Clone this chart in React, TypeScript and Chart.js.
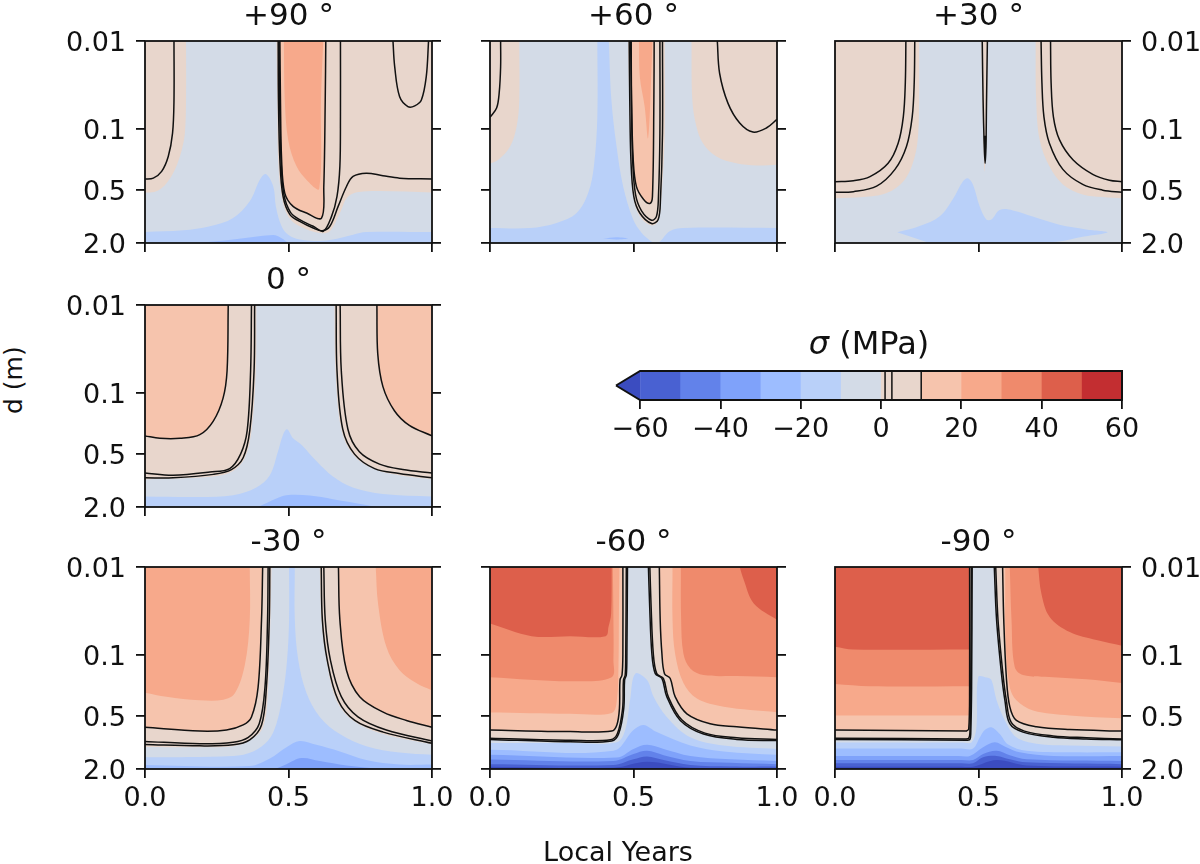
import React, { useEffect, useRef } from 'react';
import { Chart, registerables } from 'chart.js';

Chart.register(...registerables);

type Pt = [number, number];

// colour of each filled level, named by the lower edge of the band (MPa)
const bandColors: Record<number, string> = {
  [-70]: '#3b4cc0', [-60]: '#4961d2', [-50]: '#6282ea', [-40]: '#7fa2fa', [-30]: '#9dbdff', [-20]: '#b9d0f9',
  [-10]: '#d3dbe7', 0: '#e8d6cc', 10: '#f6c4ad', 20: '#f7a98b', 30: '#ef8a6c', 40: '#dd5f4b', 50: '#c32e31',
};

const plotBox: Pt[] = [[0, 0.01], [1, 0.01], [1, 2], [0, 2]];

const yTickValues = [0.01, 0.1, 0.5, 2];
const yTickLabels = ['0.01', '0.1', '0.5', '2.0'];
const xTickValues = [0, 0.5, 1];
const xTickLabels = ['0.0', '0.5', '1.0'];
const barEdges = [-60, -50, -40, -30, -20, -10, 0, 10, 20, 30, 40, 50];
const barTickValues = [-60, -40, -20, 0, 20, 40, 60];
const barTickLabels = ['\u221260', '\u221240', '\u221220', '0', '20', '40', '60'];
const barLines = [1, 2.7, 10];

// +90
const e90Ten: Pt[] = [[0.47, 0.01], [0.472, 0.047], [0.476, 0.226], [0.487, 0.54], [0.516, 0.766], [0.563, 0.912], [0.615, 1.04], [0.623, 0.454], [0.628, 0.047], [0.63, 0.01]];
const fills90: [number, Pt[]][] = [
  [-20, [[0, 1.5], [0.133, 1.435], [0.226, 1.29], [0.307, 1.04], [0.365, 0.671], [0.4, 0.381], [0.421, 0.328], [0.447, 0.454], [0.456, 0.766], [0.476, 1.29], [0.499, 1.61], [0.539, 1.83], [0.609, 1.9], [0.655, 1.83], [0.725, 1.61], [0.771, 1.5], [1, 1.5], [1, 2], [0, 2]]],
  [-30, [[0.19, 2], [0.307, 1.83], [0.446, 1.62], [0.476, 1.76], [0.499, 2]]],
  [0, [[0, 0.01], [0.143, 0.01], [0.143, 0.047], [0.139, 0.112], [0.128, 0.174], [0.104, 0.293], [0.075, 0.416], [0.046, 0.503], [0.017, 0.531], [0, 0.531]]],
  [0, [[0.458, 0.01], [0.461, 0.047], [0.464, 0.226], [0.476, 0.589], [0.499, 0.995], [0.539, 1.29], [0.609, 1.54], [0.644, 1.47], [0.679, 0.912], [0.708, 0.589], [0.76, 0.517], [1, 0.531], [1, 0.01]]],
  [10, e90Ten],
  [20, [[0.484, 0.01], [0.487, 0.047], [0.499, 0.134], [0.528, 0.268], [0.568, 0.398], [0.607, 0.482], [0.613, 0.047], [0.621, 0.01]]],
];
const lines90: Pt[][] = [
  e90Ten,
  [[0.101, 0.01], [0.101, 0.047], [0.096, 0.112], [0.081, 0.207], [0.058, 0.306], [0.029, 0.365], [0, 0.374]],
  [[0.464, 0.01], [0.465, 0.047], [0.47, 0.226], [0.481, 0.589], [0.505, 0.952], [0.539, 1.135], [0.586, 1.35], [0.618, 1.45], [0.644, 1.29], [0.673, 0.766], [0.702, 0.454], [0.725, 0.349], [0.771, 0.32], [0.829, 0.343], [0.887, 0.365], [1, 0.374]],
  [[0.467, 0.01], [0.469, 0.047], [0.474, 0.226], [0.484, 0.564], [0.507, 0.896], [0.539, 1.086], [0.586, 1.29], [0.621, 1.47], [0.65, 0.995], [0.669, 0.589], [0.679, 0.268], [0.681, 0.073], [0.681, 0.01]],
  [[0.864, 0.01], [0.87, 0.0196], [0.887, 0.043], [0.916, 0.0558], [0.94, 0.0548], [0.963, 0.047], [0.98, 0.0255], [0.988, 0.01]],
];

// +60
const e60Ten: Pt[] = [[0.49, 0.01], [0.493, 0.047], [0.499, 0.225], [0.51, 0.453], [0.534, 0.63], [0.557, 0.71], [0.566, 0.589], [0.571, 0.047], [0.572, 0.01]];
const fills60: [number, Pt[]][] = [
  [-20, [[0.374, 0.01], [0.374, 0.0725], [0.362, 0.268], [0.342, 0.54], [0.302, 0.91], [0.232, 1.18], [0.139, 1.35], [0, 1.35], [0, 2], [1, 2], [1, 1.35], [0.673, 1.35], [0.626, 1.47], [0.592, 1.92], [0.574, 2], [0.557, 1.87], [0.528, 1.53], [0.499, 1.08], [0.464, 0.453], [0.441, 0.159], [0.423, 0.047], [0.414, 0.01]]],
  [-30, [[0.394, 1.78], [0.441, 1.72], [0.481, 1.78], [0.441, 1.83]]],
  [0, [[0, 0.01], [0.102, 0.01], [0.102, 0.047], [0.093, 0.0935], [0.07, 0.159], [0.029, 0.225], [0, 0.25]]],
  [0, [[0.702, 0.01], [0.705, 0.047], [0.719, 0.0935], [0.742, 0.146], [0.789, 0.207], [0.858, 0.247], [0.928, 0.262], [1, 0.257], [1, 0.01]]],
  [0, [[0.481, 0.01], [0.485, 0.047], [0.49, 0.225], [0.499, 0.589], [0.522, 0.995], [0.563, 1.26], [0.586, 1.13], [0.597, 0.63], [0.609, 0.112], [0.609, 0.01]]],
  [10, e60Ten],
  [20, [[0.519, 0.01], [0.522, 0.0255], [0.539, 0.056], [0.551, 0.127], [0.563, 0.0196], [0.566, 0.01]]],
];
const lines60: Pt[][] = [
  e60Ten,
  [[0.037, 0.01], [0.037, 0.0196], [0.032, 0.039], [0.023, 0.058], [0, 0.074]],
  [[0.792, 0.01], [0.8, 0.0233], [0.829, 0.051], [0.87, 0.086], [0.916, 0.109], [0.963, 0.098], [1, 0.078]],
  [[0.485, 0.01], [0.487, 0.047], [0.491, 0.225], [0.501, 0.589], [0.522, 0.91], [0.563, 1.2], [0.586, 1.08], [0.594, 0.63], [0.601, 0.112], [0.601, 0.01]],
  [[0.492, 0.01], [0.493, 0.047], [0.497, 0.225], [0.507, 0.56], [0.528, 0.86], [0.563, 1.1], [0.58, 0.995], [0.587, 0.589], [0.592, 0.112], [0.592, 0.01]],
];

// +30
const e30LeftA: Pt[] = [[0.247, 0.01], [0.245, 0.03], [0.238, 0.073], [0.22, 0.146], [0.185, 0.247], [0.122, 0.35], [0.064, 0.39], [0, 0.4]];
const e30LeftB: Pt[] = [[0.278, 0.01], [0.276, 0.03], [0.269, 0.073], [0.249, 0.159], [0.209, 0.29], [0.145, 0.45], [0.064, 0.52], [0, 0.53]];
const e30RightA: Pt[] = [[0.718, 0.01], [0.721, 0.03], [0.728, 0.073], [0.747, 0.146], [0.794, 0.29], [0.863, 0.43], [0.933, 0.5], [1, 0.53]];
const e30RightB: Pt[] = [[0.751, 0.01], [0.753, 0.03], [0.761, 0.073], [0.782, 0.133], [0.829, 0.225], [0.898, 0.33], [0.956, 0.385], [1, 0.4]];
const fills30: [number, Pt[]][] = [
  [-20, [[0.217, 1.51], [0.295, 1.28], [0.365, 0.99], [0.411, 0.63], [0.446, 0.397], [0.463, 0.366], [0.481, 0.433], [0.504, 0.765], [0.527, 1.08], [0.545, 1.08], [0.574, 0.84], [0.62, 0.85], [0.689, 1.0], [0.782, 1.24], [0.875, 1.4], [0.95, 1.51], [0.863, 1.7], [0.759, 1.95], [0.319, 1.95]]],
  [0, [[0, 0.01], [0.293, 0.01], [0.293, 0.047], [0.29, 0.112], [0.278, 0.207], [0.243, 0.38], [0.18, 0.54], [0.098, 0.6], [0, 0.62]]],
  [0, [[0.699, 0.01], [0.701, 0.047], [0.713, 0.133], [0.747, 0.268], [0.794, 0.43], [0.863, 0.56], [0.933, 0.6], [1, 0.62], [1, 0.01]]],
  [0, [[0.51, 0.01], [0.513, 0.047], [0.518, 0.174], [0.521, 0.306], [0.526, 0.174], [0.531, 0.047], [0.533, 0.01]]],
];
const lines30: Pt[][] = [
  e30LeftA, e30LeftB, e30RightA, e30RightB,
  [[0.513, 0.01], [0.516, 0.047], [0.52, 0.159], [0.523, 0.247], [0.526, 0.159], [0.528, 0.047], [0.531, 0.01]],
  [[0.521, 0.12], [0.523, 0.2], [0.525, 0.12]],
];

// 0
const e0TenLeft: Pt[] = [[0.29, 0.01], [0.286, 0.056], [0.272, 0.115], [0.238, 0.21], [0.191, 0.3], [0.122, 0.33], [0.052, 0.33], [0, 0.31]];
const e0TenRight: Pt[] = [[0.808, 0.01], [0.811, 0.036], [0.829, 0.085], [0.869, 0.16], [0.921, 0.235], [1, 0.31]];
const fills0: [number, Pt[]][] = [
  [-20, [[0, 1.52], [0.191, 1.54], [0.307, 1.47], [0.388, 1.2], [0.435, 0.87], [0.463, 0.47], [0.481, 0.3], [0.495, 0.26], [0.516, 0.33], [0.545, 0.39], [0.597, 0.6], [0.655, 0.9], [0.724, 1.2], [0.829, 1.42], [1, 1.52], [1, 2], [0, 2]]],
  [-30, [[0.394, 2], [0.458, 1.6], [0.492, 1.47], [0.574, 1.48], [0.655, 1.63], [0.77, 1.9], [0.805, 2]]],
  [0, [[0, 0.01], [0.388, 0.01], [0.386, 0.056], [0.371, 0.27], [0.348, 0.55], [0.307, 0.78], [0.238, 0.9], [0, 0.97]]],
  [0, [[0.66, 0.01], [0.664, 0.056], [0.684, 0.26], [0.724, 0.5], [0.794, 0.73], [0.886, 0.87], [1, 0.96], [1, 0.01]]],
  [10, [[0, 0.01], ...e0TenLeft]],
  [10, [...e0TenRight, [1, 0.01]]],
];
const lines0: Pt[][] = [
  e0TenLeft, e0TenRight,
  [[0.382, 0.01], [0.38, 0.056], [0.365, 0.27], [0.342, 0.55], [0.301, 0.75], [0.238, 0.85], [0.098, 0.93], [0, 0.93]],
  [[0.371, 0.01], [0.368, 0.056], [0.356, 0.27], [0.333, 0.5], [0.295, 0.73], [0.226, 0.8], [0.098, 0.87], [0, 0.82]],
  [[0.666, 0.01], [0.669, 0.056], [0.689, 0.26], [0.73, 0.5], [0.8, 0.73], [0.886, 0.83], [1, 0.93]],
  [[0.68, 0.01], [0.684, 0.056], [0.707, 0.26], [0.747, 0.47], [0.817, 0.65], [0.898, 0.75], [1, 0.82]],
];

// -30
const eM30TenLeft: Pt[] = [[0.41, 0.01], [0.406, 0.04], [0.394, 0.235], [0.371, 0.51], [0.342, 0.63], [0.284, 0.72], [0.191, 0.74], [0, 0.67]];
const eM30TenRight: Pt[] = [[0.674, 0.01], [0.679, 0.04], [0.702, 0.15], [0.748, 0.3], [0.83, 0.45], [0.911, 0.56], [1, 0.67]];
const fillsM30: [number, Pt[]][] = [
  [-20, [[0.502, 0.01], [0.502, 0.04], [0.495, 0.115], [0.481, 0.275], [0.458, 0.61], [0.429, 0.95], [0.377, 1.26], [0.307, 1.42], [0, 1.47], [0, 2], [1, 2], [1, 1.38], [0.887, 1.3], [0.771, 1.1], [0.679, 0.8], [0.609, 0.51], [0.563, 0.275], [0.534, 0.115], [0.522, 0.04], [0.522, 0.01]]],
  [-30, [[0, 1.8], [0.365, 1.85], [0.435, 1.52], [0.493, 1.13], [0.539, 0.96], [0.597, 1.06], [0.679, 1.26], [0.771, 1.58], [0.887, 1.78], [1, 1.78], [1, 2], [0, 2]]],
  [-40, [[0.452, 2], [0.493, 1.76], [0.545, 1.5], [0.609, 1.62], [0.702, 1.82], [0.83, 2]]],
  [0, [[0, 0.01], [0.441, 0.01], [0.437, 0.04], [0.429, 0.235], [0.412, 0.66], [0.365, 0.95], [0.307, 1.1], [0.191, 1.13], [0, 1.12]]],
  [0, [[0.609, 0.01], [0.615, 0.04], [0.632, 0.115], [0.667, 0.33], [0.725, 0.56], [0.83, 0.8], [1, 1.05], [1, 0.01]]],
  [10, [[0, 0.01], ...eM30TenLeft]],
  [10, [...eM30TenRight, [1, 0.01]]],
  [20, [[0, 0.01], [0.365, 0.01], [0.365, 0.04], [0.348, 0.13], [0.313, 0.275], [0.273, 0.325], [0.191, 0.33], [0.075, 0.3], [0, 0.27]]],
  [20, [[0.804, 0.01], [0.812, 0.026], [0.841, 0.081], [0.887, 0.15], [0.945, 0.21], [1, 0.255], [1, 0.01]]],
];
const linesM30: Pt[][] = [
  eM30TenLeft, eM30TenRight,
  [[0.435, 0.01], [0.433, 0.04], [0.423, 0.235], [0.406, 0.63], [0.365, 0.93], [0.307, 1.06], [0.191, 1.09], [0, 1.05]],
  [[0.429, 0.01], [0.427, 0.04], [0.418, 0.235], [0.398, 0.61], [0.36, 0.87], [0.307, 0.99], [0.191, 1.03], [0, 0.97]],
  [[0.614, 0.01], [0.618, 0.04], [0.635, 0.115], [0.673, 0.33], [0.731, 0.56], [0.83, 0.76], [1, 1.02]],
  [[0.623, 0.01], [0.628, 0.04], [0.646, 0.115], [0.684, 0.3], [0.742, 0.51], [0.841, 0.72], [1, 0.96]],
];

// -60
const eM60ZeroLeft: Pt[] = [[0.479, 0.01], [0.477, 0.097], [0.475, 0.17], [0.469, 0.194], [0.466, 0.41], [0.448, 0.8], [0.424, 0.96], [0.279, 0.98], [0, 0.92]];
const eM60ZeroRight: Pt[] = [[0.552, 0.01], [0.556, 0.026], [0.564, 0.097], [0.576, 0.164], [0.599, 0.186], [0.616, 0.3], [0.663, 0.56], [0.744, 0.8], [0.86, 0.92], [1, 0.95]];
const eM60TenLeft: Pt[] = [[0.463, 0.01], [0.463, 0.097], [0.46, 0.17], [0.453, 0.194], [0.451, 0.41], [0.442, 0.63], [0.424, 0.74], [0.279, 0.75], [0, 0.72]];
const eM60TenRight: Pt[] = [[0.59, 0.01], [0.593, 0.04], [0.599, 0.097], [0.608, 0.164], [0.628, 0.186], [0.645, 0.3], [0.686, 0.47], [0.767, 0.61], [0.86, 0.66], [1, 0.72]];
const fillsM60: [number, Pt[]][] = [
  [-20, [[0, 1.01], [0.279, 1.01], [0.442, 0.99], [0.471, 0.72], [0.488, 0.33], [0.506, 0.164], [0.547, 0.194], [0.57, 0.3], [0.616, 0.51], [0.698, 0.87], [0.814, 1.08], [1, 1.18], [1, 2], [0, 2]]],
  [-30, [[0, 1.21], [0.43, 1.24], [0.5, 0.72], [0.535, 0.63], [0.581, 0.76], [0.698, 1.08], [0.814, 1.26], [1, 1.38], [1, 2], [0, 2]]],
  [-40, [[0, 1.38], [0.442, 1.48], [0.5, 1.18], [0.547, 1.06], [0.605, 1.18], [0.698, 1.42], [0.837, 1.55], [1, 1.62], [1, 2], [0, 2]]],
  [-50, [[0, 1.56], [0.43, 1.62], [0.5, 1.35], [0.547, 1.24], [0.605, 1.39], [0.698, 1.62], [0.837, 1.7], [1, 1.76], [1, 2], [0, 2]]],
  [-60, [[0, 1.76], [0.43, 1.8], [0.5, 1.55], [0.547, 1.44], [0.605, 1.58], [0.698, 1.8], [0.837, 1.87], [1, 1.88], [1, 2], [0, 2]]],
  [-70, [[0, 1.88], [0.43, 1.93], [0.547, 1.65], [0.698, 1.93], [1, 1.96], [1, 2], [0, 2]]],
  [0, [[0, 0.01], ...eM60ZeroLeft]],
  [0, [...eM60ZeroRight, [1, 0.01]]],
  [10, [[0, 0.01], ...eM60TenLeft]],
  [10, [...eM60TenRight, [1, 0.01]]],
  [20, [[0, 0.01], [0.451, 0.01], [0.449, 0.04], [0.448, 0.115], [0.442, 0.33], [0.424, 0.46], [0.279, 0.47], [0, 0.455]]],
  [20, [[0.636, 0.01], [0.636, 0.04], [0.645, 0.097], [0.674, 0.21], [0.721, 0.315], [0.814, 0.39], [1, 0.45], [1, 0.01]]],
  [30, [[0, 0.01], [0.428, 0.01], [0.43, 0.04], [0.43, 0.115], [0.424, 0.18], [0.279, 0.2], [0, 0.18]]],
  [30, [[0.665, 0.01], [0.666, 0.04], [0.674, 0.097], [0.698, 0.143], [0.744, 0.17], [0.86, 0.175], [1, 0.18], [1, 0.01]]],
  [40, [[0, 0.01], [0.424, 0.01], [0.422, 0.034], [0.413, 0.048], [0.403, 0.0613], [0.279, 0.0613], [0.145, 0.0613], [0, 0.044]]],
  [40, [[0.87, 0.01], [0.884, 0.014], [0.919, 0.026], [1, 0.04], [1, 0.01]]],
];
const linesM60: Pt[][] = [
  eM60ZeroLeft, eM60ZeroRight, eM60TenLeft, eM60TenRight,
  [[0.475, 0.01], [0.473, 0.097], [0.471, 0.17], [0.465, 0.194], [0.462, 0.41], [0.444, 0.79], [0.42, 0.93], [0.279, 0.94], [0, 0.89]],
  [[0.557, 0.01], [0.561, 0.026], [0.569, 0.097], [0.581, 0.164], [0.604, 0.186], [0.621, 0.3], [0.668, 0.55], [0.749, 0.78], [0.86, 0.88], [1, 0.92]],
];

// -90; the square corners next to the cold strip are listed twice so the spline does not round them
const eM90ZeroLeft: Pt[] = [[0.478, 0.01], [0.476, 0.235], [0.473, 0.8], [0.47, 0.92], [0.462, 0.94], [0.462, 0.94], [0, 0.92]];
const eM90ZeroRight: Pt[] = [[0.555, 0.01], [0.563, 0.04], [0.58, 0.164], [0.592, 0.33], [0.609, 0.61], [0.655, 0.76], [0.76, 0.87], [0.876, 0.91], [1, 0.93]];
const eM90TenLeft: Pt[] = [[0.469, 0.01], [0.469, 0.235], [0.466, 0.7], [0.458, 0.74], [0.458, 0.74], [0, 0.72]];
const eM90TenRight: Pt[] = [[0.584, 0.01], [0.588, 0.04], [0.597, 0.18], [0.609, 0.39], [0.632, 0.56], [0.702, 0.66], [0.818, 0.71], [1, 0.74]];
const fillsM90: [number, Pt[]][] = [
  [-20, [[0, 1.0], [0.44, 1.0], [0.476, 0.99], [0.493, 0.66], [0.499, 0.18], [0.528, 0.182], [0.545, 0.194], [0.563, 0.33], [0.592, 0.56], [0.632, 0.87], [0.702, 1.03], [0.818, 1.08], [1, 1.11], [1, 2], [0, 2]]],
  [-30, [[0, 1.17], [0.44, 1.17], [0.481, 1.17], [0.505, 0.87], [0.522, 0.72], [0.545, 0.67], [0.574, 0.8], [0.603, 1.05], [0.667, 1.24], [0.818, 1.29], [1, 1.29], [1, 2], [0, 2]]],
  [-40, [[0, 1.42], [0.43, 1.42], [0.47, 1.42], [0.516, 1.13], [0.557, 0.99], [0.597, 1.13], [0.644, 1.29], [0.76, 1.42], [1, 1.42], [1, 2], [0, 2]]],
  [-50, [[0, 1.58], [0.44, 1.58], [0.481, 1.58], [0.516, 1.35], [0.563, 1.24], [0.609, 1.39], [0.667, 1.55], [1, 1.62], [1, 2], [0, 2]]],
  [-60, [[0, 1.72], [0.44, 1.72], [0.481, 1.72], [0.516, 1.47], [0.563, 1.42], [0.609, 1.55], [0.667, 1.68], [1, 1.76], [1, 2], [0, 2]]],
  [-70, [[0, 1.88], [0.44, 1.88], [0.481, 1.88], [0.563, 1.58], [0.667, 1.82], [1, 1.88], [1, 2], [0, 2]]],
  [0, [[0, 0.01], ...eM90ZeroLeft]],
  [0, [...eM90ZeroRight, [1, 0.01]]],
  [10, [[0, 0.01], ...eM90TenLeft]],
  [10, [...eM90TenRight, [1, 0.01]]],
  [20, [[0, 0.01], [0.469, 0.01], [0.469, 0.49], [0.469, 0.49], [0, 0.49]]],
  [20, [[0.593, 0.01], [0.595, 0.077], [0.609, 0.235], [0.632, 0.33], [0.69, 0.43], [0.818, 0.49], [1, 0.53], [1, 0.01]]],
  [30, [[0, 0.01], [0.469, 0.01], [0.469, 0.228], [0.469, 0.228], [0.122, 0.228], [0, 0.215]]],
  [30, [[0.609, 0.01], [0.615, 0.04], [0.626, 0.137], [0.655, 0.17], [0.76, 0.18], [0.876, 0.19], [1, 0.21], [1, 0.01]]],
  [40, [[0, 0.01], [0.469, 0.01], [0.469, 0.087], [0.469, 0.087], [0.064, 0.087], [0, 0.081]]],
  [40, [[0.708, 0.01], [0.719, 0.02], [0.748, 0.037], [0.818, 0.055], [0.911, 0.068], [1, 0.079], [1, 0.01]]],
];
const linesM90: Pt[][] = [
  eM90ZeroLeft, eM90ZeroRight, eM90TenLeft, eM90TenRight,
  [[0.475, 0.01], [0.473, 0.235], [0.47, 0.78], [0.466, 0.89], [0.458, 0.91], [0.458, 0.91], [0, 0.89]],
  [[0.56, 0.01], [0.568, 0.04], [0.585, 0.164], [0.597, 0.33], [0.614, 0.59], [0.66, 0.74], [0.76, 0.84], [0.876, 0.88], [1, 0.91]],
];

const blackTicks = { color: '#111', lineWidth: 1.8, drawOnChartArea: false, drawTicks: true, tickLength: 9 };
const tickFont = { family: 'DejaVu Sans', size: 27 };

// the four spines, drawn over the contours
const spines = {
  id: 'spines',
  afterDraw(chart: any) {
    const { ctx, chartArea: a } = chart;
    ctx.save();
    ctx.strokeStyle = '#111';
    ctx.lineWidth = 1.8;
    ctx.strokeRect(a.left, a.top, a.right - a.left, a.bottom - a.top);
    ctx.restore();
  },
};

const toXY = (pts: Pt[]) => pts.map(([x, y]) => ({ x, y }));

// points on the plot edge are doubled, so the spline keeps the corner sharp there
const keepCorners = (pts: Pt[]) =>
  pts.flatMap((p) => (p[0] === 0 || p[0] === 1 || p[1] === 0.01 || p[1] === 2 ? [p, p] : [p]));

const fillSet = (level: number, pts: Pt[]) => ({
  data: toXY(keepCorners(pts)),
  fill: 'shape',
  backgroundColor: bandColors[level],
  borderWidth: 0,
  pointRadius: 0,
  tension: 0.35,
});

const lineSet = (pts: Pt[]) => ({
  data: toXY(pts),
  fill: false,
  borderColor: '#111',
  borderWidth: 1.5,
  pointRadius: 0,
  tension: 0.35,
});

interface PanelProps {
  title: string;
  left: number;
  top: number;
  fills: [number, Pt[]][];
  lines: Pt[][];
  yLabels?: boolean;
  yRight?: boolean;
  xLabels?: boolean;
}

const PLOT_W = 287;
const PLOT_H = 202;
const MARGIN_L = 90;
const MARGIN_R = 80;
const MARGIN_T = 30;
const MARGIN_B = 50;

const logAxis = (position: string, labels: boolean, width: number) => ({
  type: 'logarithmic',
  position,
  reverse: true,
  bounds: 'data',
  min: 0.01,
  max: 2,
  afterBuildTicks: (s: any) => { s.ticks = yTickValues.map((value) => ({ value })); },
  afterFit: (s: any) => { s.width = width; },
  grid: blackTicks,
  border: { display: false },
  ticks: {
    display: labels,
    autoSkip: false,
    padding: 10,
    labelOffset: 3,
    color: '#111',
    font: tickFont,
    callback: (v: number) => yTickLabels[yTickValues.indexOf(v)],
  },
});

const Panel: React.FC<PanelProps> = ({ title, left, top, fills, lines, yLabels, yRight, xLabels }) => {
  const ref = useRef<HTMLCanvasElement | null>(null);

  useEffect(() => {
    if (!ref.current) return;
    // chart.js paints the first dataset last, so the list is reversed
    const datasets: any[] = [
      fillSet(-10, plotBox),
      ...fills.map(([level, pts]) => fillSet(level, pts)),
      ...lines.map(lineSet),
    ].reverse();
    const chart = new Chart(ref.current, {
      type: 'line',
      data: { datasets },
      plugins: [spines],
      options: {
        animation: false,
        responsive: false,
        events: [],
        layout: { padding: { top: MARGIN_T, left: yRight ? MARGIN_L : 0 } },
        plugins: { legend: { display: false }, tooltip: { enabled: false } },
        scales: {
          x: {
            type: 'linear',
            min: 0,
            max: 1,
            afterBuildTicks: (s: any) => { s.ticks = xTickValues.map((value) => ({ value })); },
            afterFit: (s: any) => { s.height = MARGIN_B; },
            grid: blackTicks,
            border: { display: false },
            ticks: {
              display: !!xLabels,
              autoSkip: false,
              maxRotation: 0,
              padding: 5,
              color: '#111',
              font: tickFont,
              callback: (v: number) => xTickLabels[xTickValues.indexOf(v)],
            },
          },
          ...(yRight
            ? { y: logAxis('right', true, MARGIN_R) }
            : { y: logAxis('left', !!yLabels, MARGIN_L), y2: logAxis('right', false, MARGIN_R) }),
        } as any,
      },
    } as any);
    return () => chart.destroy();
  }, [fills, lines, yLabels, yRight, xLabels]);

  return (
    <>
      <canvas
        ref={ref}
        width={PLOT_W + MARGIN_L + MARGIN_R}
        height={PLOT_H + MARGIN_T + MARGIN_B}
        style={{ position: 'absolute', left: left - MARGIN_L, top: top - MARGIN_T }}
      />
      <div style={{ ...textStyle, left: left, width: PLOT_W, top: top - 43, fontSize: 31 }}>{title}</div>
    </>
  );
};

const ColorBar: React.FC = () => {
  const ref = useRef<HTMLCanvasElement | null>(null);

  useEffect(() => {
    if (!ref.current) return;
    // each band runs to the right end and the next one paints over it, so no seams show
    const rect = (lo: number): Pt[] => [[lo, 0], [60, 0], [60, 1], [lo, 1]];
    const datasets: any[] = [
      ...barEdges.map((lo) => ({ ...fillSet(lo, rect(lo)), tension: 0 })),
      { ...fillSet(-70, [[-66, 0.5], [-60, 1], [-60, 0]]), tension: 0 },
      ...barLines.map((v) => ({ ...lineSet([[v, 0], [v, 1]]), tension: 0 })),
      { ...lineSet([[-66, 0.5], [-60, 1], [60, 1], [60, 0], [-60, 0], [-66, 0.5]]), tension: 0, borderWidth: 2, clip: 4 },
    ].reverse();
    const chart = new Chart(ref.current, {
      type: 'line',
      data: { datasets },
      options: {
        animation: false,
        responsive: false,
        events: [],
        layout: { padding: { top: 11, left: 16, right: 78 } },
        plugins: { legend: { display: false }, tooltip: { enabled: false } },
        scales: {
          x: {
            type: 'linear',
            min: -66,
            max: 60,
            afterBuildTicks: (s: any) => { s.ticks = barTickValues.map((value) => ({ value })); },
            afterFit: (s: any) => { s.height = 50; },
            grid: blackTicks,
            border: { display: false },
            ticks: {
              autoSkip: false,
              maxRotation: 0,
              padding: 5,
              color: '#111',
              font: tickFont,
              callback: (v: number) => barTickLabels[barTickValues.indexOf(v)],
            },
          },
          y: { type: 'linear', min: 0, max: 1, display: false },
        },
      },
    } as any);
    return () => chart.destroy();
  }, []);

  return (
    <>
      <canvas ref={ref} width={600} height={90} style={{ position: 'absolute', left: 600, top: 360 }} />
      <div style={{ ...textStyle, left: 640, width: 458, top: 327, fontSize: 32 }}>
        <i>σ</i> (MPa)
      </div>
    </>
  );
};

const textStyle: React.CSSProperties = {
  position: 'absolute',
  fontFamily: 'DejaVu Sans',
  textAlign: 'center',
  color: '#111',
  lineHeight: '32px',
  whiteSpace: 'pre',
};

export default function App() {
  return (
    <div style={{ position: 'absolute', left: 0, top: 0, width: 1200, height: 864, overflow: 'hidden', background: '#fff' }}>
      <Panel title="+90 °" left={145} top={41} fills={fills90} lines={lines90} yLabels />
      <Panel title="+60 °" left={490} top={41} fills={fills60} lines={lines60} />
      <Panel title="+30 °" left={835} top={41} fills={fills30} lines={lines30} yRight />
      <Panel title="0 °" left={145} top={305} fills={fills0} lines={lines0} yLabels />
      <Panel title="-30 °" left={145} top={567} fills={fillsM30} lines={linesM30} yLabels xLabels />
      <Panel title="-60 °" left={490} top={567} fills={fillsM60} lines={linesM60} xLabels />
      <Panel title="-90 °" left={835} top={567} fills={fillsM90} lines={linesM90} yRight xLabels />
      <ColorBar />
      <div style={{ ...textStyle, left: 0, top: 384, width: 28, height: 32, fontSize: 25, transform: 'rotate(-90deg)' }}>d (m)</div>
      <div style={{ ...textStyle, left: 400, width: 436, top: 836, fontSize: 27 }}>Local Years</div>
    </div>
  );
}
